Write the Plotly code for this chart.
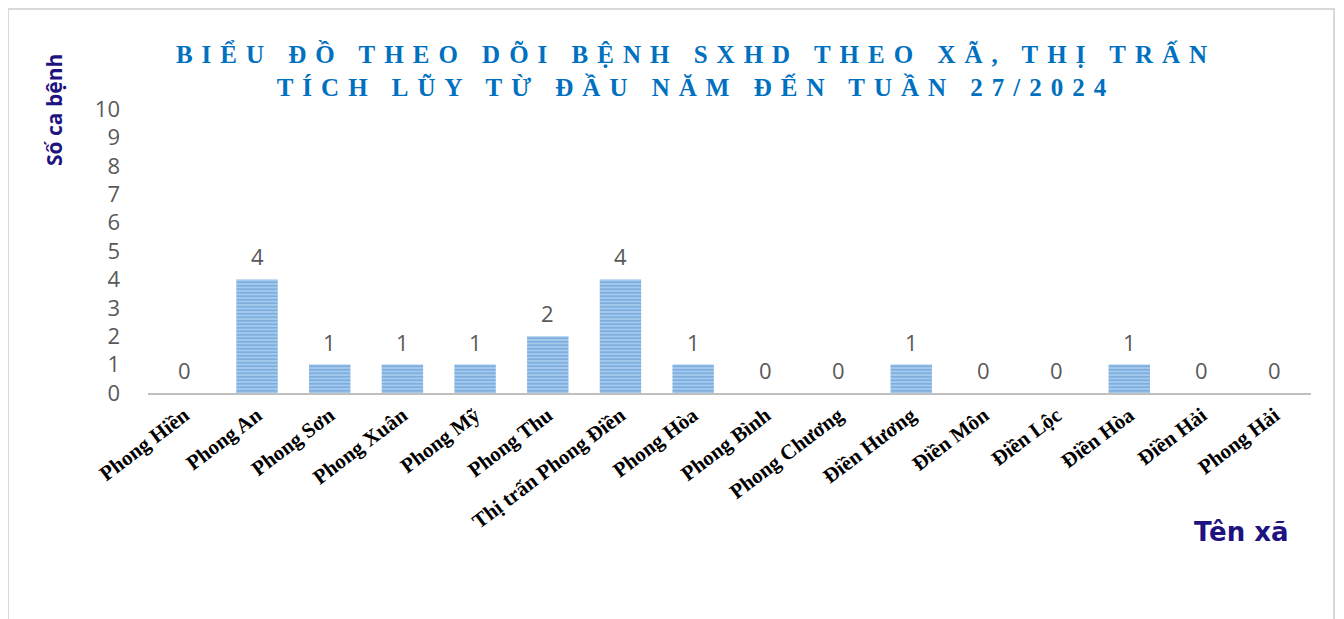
import plotly.graph_objects as go

categories = ["Phong Hiền", "Phong An", "Phong Sơn", "Phong Xuân", "Phong Mỹ", "Phong Thu",
              "Thị trấn Phong Điền", "Phong Hòa", "Phong Bình", "Phong Chương", "Điền Hương",
              "Điền Môn", "Điền Lộc", "Điền Hòa", "Điền Hải", "Phong Hải"]
cases = [0, 4, 1, 1, 1, 2, 4, 1, 0, 0, 1, 0, 0, 1, 0, 0]
y_ticks = list(range(0, 11))

title_text = "BIỂU ĐỒ THEO DÕI BỆNH SXHD THEO XÃ, THỊ TRẤN<br>TÍCH LŨY TỪ ĐẦU NĂM ĐẾN TUẦN 27/2024"
y_title = "Số ca bệnh"
x_title = "Tên xã"

W, H = 1344, 619
L, R, T, B = 140, 41, 101, 234
pw, ph = W - L - R, H - T - B


def px(x):
    return (x - L) / pw


def py(y):
    return (T + ph - y) / ph


fig = go.Figure()
fig.add_trace(go.Bar(
    x=categories, y=cases, width=0.57,
    marker=dict(color="#A6C8EC",
                pattern=dict(shape="-", fgcolor="#4F91D3", bgcolor="#AACBEC", size=3.5, solidity=0.55),
                line=dict(width=0)),
    hoverinfo="x+y",
))

for c, v in zip(categories, cases):
    fig.add_annotation(x=c, y=v, text=str(v), showarrow=False, yanchor="middle", xanchor="center",
                       yshift=23, font=dict(family="Open Sans, Liberation Sans", size=22, color="#595959"))

fig.add_annotation(xref="paper", yref="paper", x=px(46), y=py(102), xanchor="center", yanchor="middle",
                   text=y_title, textangle=-90, showarrow=False,
                   font=dict(family="Open Sans", size=21, color="#1F1380", weight="bold"))
fig.add_annotation(xref="paper", yref="paper", x=px(1233), y=py(524), xanchor="center", yanchor="middle",
                   text=x_title, showarrow=False,
                   font=dict(family="DejaVu Sans", size=26, color="#1F1380", weight="bold"))

fig.add_shape(type="rect", xref="paper", yref="paper",
              x0=px(0), x1=px(1326), y0=py(640), y1=py(1),
              line=dict(color="#D9D9D9", width=2), fillcolor="rgba(0,0,0,0)", layer="below")

fig.update_layout(
    width=W, height=H,
    margin=dict(l=L, r=R, t=T, b=B),
    paper_bgcolor="white", plot_bgcolor="white",
    showlegend=False,
    title=dict(text=title_text, x=688 / W, xanchor="center", y=1 - 55 / H, yanchor="top",
               font=dict(family="Liberation Serif", size=25, color="#0070C0", weight="bold")),
    xaxis=dict(tickangle=-37, showgrid=False, showline=True, linecolor="#BFBFBF", linewidth=2,
               ticks="", tickfont=dict(family="Liberation Serif", size=21, color="black", weight="bold")),
    yaxis=dict(range=[0, 10], tickvals=y_ticks, showgrid=False, zeroline=False, showline=False,
               ticklabelstandoff=27,
               tickfont=dict(family="Open Sans, Liberation Sans", size=22, color="#595959")),
)

post = "document.querySelectorAll('.gtitle').forEach(function(e){e.style.letterSpacing='9px';});"
fig.write_html("out.html", post_script=post)
